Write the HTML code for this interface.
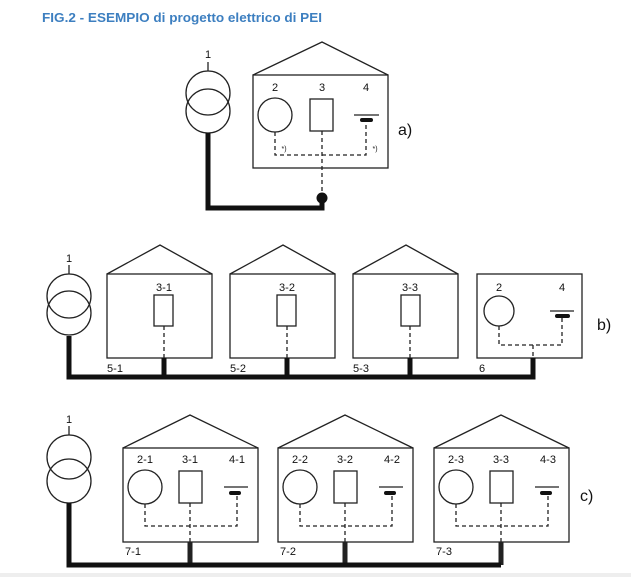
<!DOCTYPE html>
<html><head><meta charset="utf-8"><style>
html,body{margin:0;padding:0;background:#fff;width:631px;height:577px;overflow:hidden}
svg text{font-family:"Liberation Sans",sans-serif}
</style></head><body>
<svg width="631" height="577" viewBox="0 0 631 577" xmlns="http://www.w3.org/2000/svg">
<text x="42" y="22" font-size="13" font-weight="bold" fill="#3d7fc0" textLength="280" lengthAdjust="spacingAndGlyphs">FIG.2 - ESEMPIO di progetto elettrico di PEI</text>
<g fill="none" stroke="#222" stroke-width="1.3">
<!-- a -->
<circle cx="208" cy="93" r="22"/><circle cx="208" cy="111" r="22"/>
<line x1="208" y1="62" x2="208" y2="71"/>
<polyline points="253,75 322,42 388,75"/>
<rect x="253" y="75" width="135" height="93"/>
<circle cx="275" cy="115" r="17"/>
<rect x="310" y="99" width="23" height="32"/>
<line x1="354" y1="115" x2="379" y2="115"/>
<g stroke-dasharray="4,3"><polyline points="275,132 275,155 366,155 366,122"/><line x1="322" y1="131" x2="322" y2="193"/></g>
<!-- b -->
<circle cx="69" cy="296" r="22"/><circle cx="69" cy="313" r="22"/>
<line x1="69" y1="265" x2="69" y2="274"/>
<polyline points="107,274 160,245 212,274"/><rect x="107" y="274" width="105" height="84"/>
<polyline points="230,274 283,245 335,274"/><rect x="230" y="274" width="105" height="84"/>
<polyline points="353,274 406,245 458,274"/><rect x="353" y="274" width="105" height="84"/>
<rect x="477" y="274" width="105" height="84"/>
<rect x="154" y="295" width="19" height="31"/>
<rect x="277" y="295" width="19" height="31"/>
<rect x="401" y="295" width="19" height="31"/>
<circle cx="499" cy="311" r="15"/>
<line x1="550" y1="311" x2="574" y2="311"/>
<g stroke-dasharray="4,3">
<line x1="164" y1="326" x2="164" y2="358"/><line x1="287" y1="326" x2="287" y2="358"/><line x1="410" y1="326" x2="410" y2="358"/>
<polyline points="499,326 499,345 562,345 562,318"/><line x1="533" y1="345" x2="533" y2="358"/>
</g>
<!-- c -->
<circle cx="69" cy="457" r="22"/><circle cx="69" cy="481" r="22"/>
<line x1="69" y1="426" x2="69" y2="435"/>
</g>
<g id="h" fill="none" stroke="#222" stroke-width="1.3">
<polyline points="123,448 190,415 258,448"/><rect x="123" y="448" width="135" height="94"/>
<circle cx="145" cy="487" r="17"/><rect x="179" y="471" width="23" height="32"/>
<line x1="224" y1="487" x2="248" y2="487"/>
<g stroke-dasharray="4,3"><polyline points="145,504 145,526 237,526 237,495"/><line x1="190" y1="503" x2="190" y2="542"/></g>
<rect x="229" y="491" width="12" height="4" rx="2" fill="#111" stroke="none"/>
<line x1="190" y1="542" x2="190" y2="565" stroke-width="5"/>
</g>
<use href="#h" x="155"/><use href="#h" x="311"/>
<g fill="none" stroke="#111" stroke-width="5">
<polyline points="208,133 208,208 322,208 322,198"/>
<polyline points="69,336 69,377 533,377 533,358"/>
<line x1="164" y1="358" x2="164" y2="377"/><line x1="287" y1="358" x2="287" y2="377"/><line x1="410" y1="358" x2="410" y2="377"/>
<polyline points="69,503 69,565 501,565"/>
</g>
<circle cx="322" cy="198" r="5.5" fill="#111"/>
<rect x="360" y="118" width="13" height="4" rx="2" fill="#111"/>
<rect x="555" y="314" width="15" height="4" rx="2" fill="#111"/>
<g font-size="11" text-anchor="middle" fill="#111">
<text x="208" y="58">1</text><text x="275" y="91">2</text><text x="322" y="91">3</text><text x="366" y="91">4</text>
<text x="284" y="151" font-size="7">*)</text><text x="375" y="151" font-size="7">*)</text>
<text x="69" y="262">1</text><text x="164" y="291">3-1</text><text x="287" y="291">3-2</text><text x="410" y="291">3-3</text>
<text x="499" y="291">2</text><text x="562" y="291">4</text>
<text x="115" y="372">5-1</text><text x="238" y="372">5-2</text><text x="361" y="372">5-3</text><text x="482" y="372">6</text>
<text x="69" y="423">1</text>
<text x="145" y="463">2-1</text><text x="190" y="463">3-1</text><text x="237" y="463">4-1</text>
<text x="300" y="463">2-2</text><text x="345" y="463">3-2</text><text x="392" y="463">4-2</text>
<text x="456" y="463">2-3</text><text x="501" y="463">3-3</text><text x="548" y="463">4-3</text>
<text x="133" y="555">7-1</text><text x="288" y="555">7-2</text><text x="444" y="555">7-3</text>
</g>
<g font-size="16" fill="#111"><text x="398" y="135">a)</text><text x="597" y="330">b)</text><text x="580" y="501">c)</text></g>
<rect x="0" y="573" width="631" height="4" fill="#eee"/>
</svg>
</body></html>
